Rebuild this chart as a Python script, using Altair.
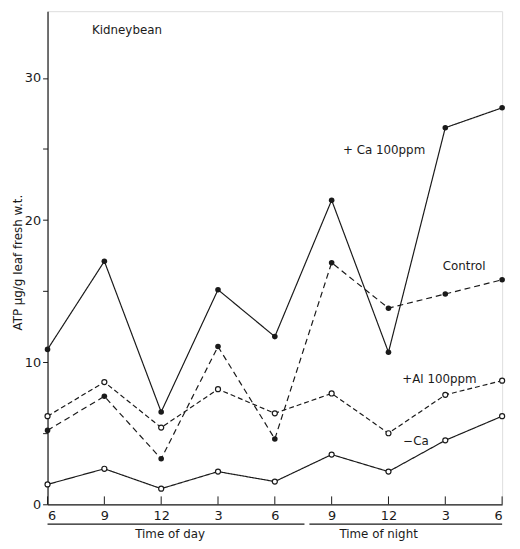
import json
import altair as alt
import pandas as pd

positions = [0, 1, 2, 3, 4, 5, 6, 7, 8]
hour_labels = ["6", "9", "12", "3", "6", "9", "12", "3", "6"]

ca_plus = [10.9, 17.1, 6.5, 15.1, 11.8, 21.4, 10.7, 26.5, 27.9]
control = [5.2, 7.6, 3.2, 11.1, 4.6, 17.0, 13.8, 14.8, 15.8]
al_plus = [6.2, 8.6, 5.4, 8.1, 6.4, 7.8, 5.0, 7.7, 8.7]
ca_minus = [1.4, 2.5, 1.1, 2.3, 1.6, 3.5, 2.3, 4.5, 6.2]

series_names = ["+ Ca 100ppm", "Control", "+Al 100ppm", "\u2212Ca"]

FONT = "DejaVu Sans"
INK = "#1a1a1a"

W, H = 460, 499
YMAX = 34.7

rows = []
for name, vals in zip(series_names, [ca_plus, control, al_plus, ca_minus]):
    for p, v in zip(positions, vals):
        rows.append({"series": name, "pos": p, "value": v})
df = pd.DataFrame(rows)

label_expr = json.dumps(hour_labels) + "[datum.value]"

x_scale = alt.Scale(domain=[0, 8], nice=False, zero=False)
y_scale = alt.Scale(domain=[0, YMAX], nice=False)

x_axis = alt.Axis(values=positions, labelExpr=label_expr, tickSize=0, labelPadding=5,
                  labelFont=FONT, labelFontSize=13, labelColor=INK, title=None,
                  domainColor=INK, domainWidth=1.2, grid=False)
y_axis = alt.Axis(values=[0, 5, 10, 15, 20, 25, 30],
                  labelExpr="datum.value % 10 == 0 ? datum.label : ''",
                  tickSize=5, tickColor=INK, labelFont=FONT, labelFontSize=13,
                  labelColor=INK, domainColor=INK, domainWidth=1.2, grid=False,
                  title="ATP \u00b5g/g leaf fresh w.t.", titleFont=FONT,
                  titleFontSize=12, titleFontWeight="normal", titleColor=INK,
                  titleX=-30, titleY=254, titleAngle=270, titleBaseline="middle",
                  titleAlign="center")

base = alt.Chart(df)

styles = {
    "+ Ca 100ppm": dict(dash=[1, 0], filled=True),
    "Control": dict(dash=[6, 4], filled=True),
    "+Al 100ppm": dict(dash=[5, 3], filled=False),
    "\u2212Ca": dict(dash=[1, 0], filled=False),
}

layers = []
for name in series_names:
    st = styles[name]
    sub = base.transform_filter(alt.datum.series == name)
    line = sub.mark_line(color=INK, strokeWidth=1.2, strokeDash=st["dash"]).encode(
        x=alt.X("pos:Q", scale=x_scale, axis=x_axis),
        y=alt.Y("value:Q", scale=y_scale, axis=y_axis),
        order="pos:Q",
    )
    if st["filled"]:
        pts = sub.mark_point(shape="circle", filled=True, color=INK, size=32, opacity=1).encode(
            x="pos:Q", y="value:Q")
    else:
        pts = sub.mark_point(shape="circle", filled=True, fill="white", stroke=INK,
                             strokeWidth=1.2, size=26, opacity=1).encode(
            x="pos:Q", y="value:Q")
    layers += [line, pts]

# inward x ticks
tick_df = pd.DataFrame({"pos": positions})
xticks = alt.Chart(tick_df).mark_rule(color=INK, strokeWidth=1).encode(
    x="pos:Q", y=alt.value(H), y2=alt.value(H - 8))

# annotations
ann = pd.DataFrame({
    "text": ["Kidneybean", "+ Ca 100ppm", "Control", "+Al 100ppm", "\u2212Ca"],
    "px": [45, 299, 400, 359, 360],
    "py": [19, 141, 258, 372, 435],
})
ann_text = alt.Chart(ann).mark_text(align="left", baseline="middle", font=FONT,
                                    fontSize=12, color=INK).encode(
    x=alt.X("px:Q", scale=None), y=alt.Y("py:Q", scale=None), text="text:N")

# bottom period labels
periods = pd.DataFrame({
    "text": ["Time of day", "Time of night"],
    "x0": [0, 265], "x1": [260, 460], "cx": [124, 335],
})
period_lines = alt.Chart(periods).mark_rule(color=INK, strokeWidth=1.2).encode(
    x=alt.X("x0:Q", scale=None), x2="x1:Q", y=alt.value(H + 20))
period_text = alt.Chart(periods).mark_text(align="center", baseline="middle", font=FONT,
                                           fontSize=12, color=INK).encode(
    x=alt.X("cx:Q", scale=None), y=alt.value(H + 30), text="text:N")

chart = alt.layer(*layers, xticks, ann_text, period_lines, period_text).properties(
    width=W, height=H,
    autosize=alt.AutoSizeParams(type="none"),
    padding={"left": 40, "top": 0, "right": 10, "bottom": 40},
).configure_view(stroke=INK, strokeWidth=1.2).configure(background="white")

chart.save("out.html", embed_options={"renderer": "svg", "actions": False})
